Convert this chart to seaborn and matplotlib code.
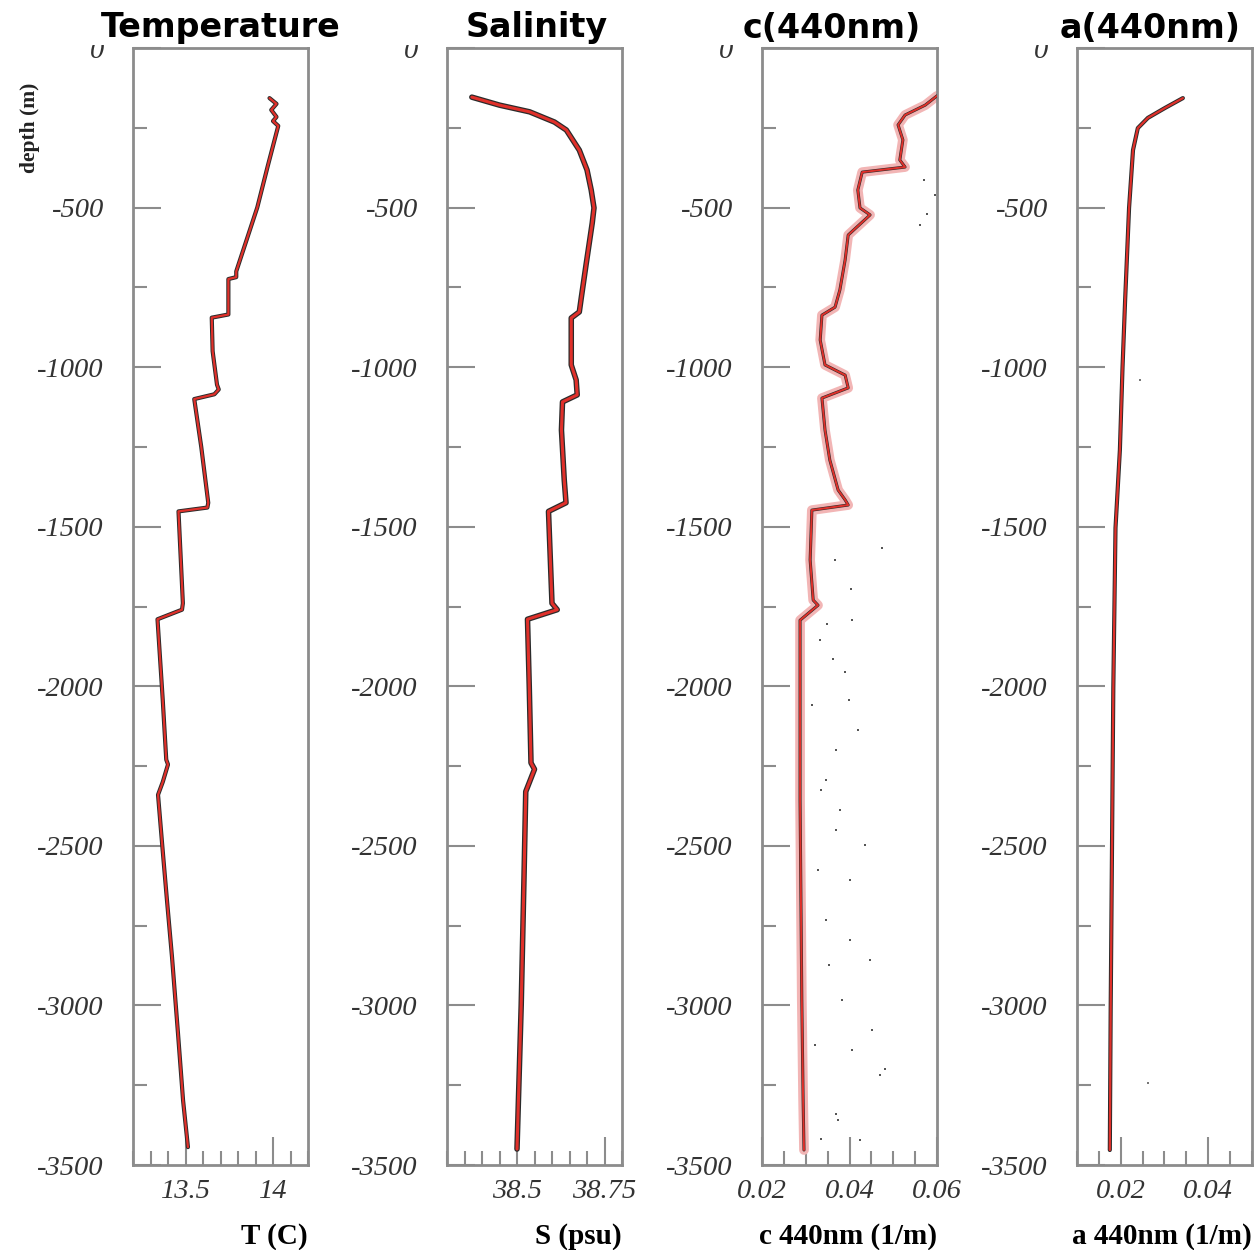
import numpy as np
import pandas as pd
import matplotlib
matplotlib.use("Agg")
import matplotlib.pyplot as plt
import seaborn as sns
from matplotlib.patches import Rectangle
from matplotlib.ticker import MultipleLocator, FixedLocator, FixedFormatter

# ---------------- data ----------------
temp_depth = [-157, -175, -194, -216, -229, -244, -370, -500, -600, -700, -718, -724,
              -835, -845, -950, -1055, -1070, -1085, -1100, -1250, -1425, -1440, -1452,
              -1740, -1760, -1790, -2043, -2230, -2245, -2300, -2340, -2491, -2670,
              -2849, -3087, -3297, -3444]
temp_val = [13.98, 14.02, 13.99, 14.02, 14.00, 14.03, 13.97, 13.91, 13.85, 13.79, 13.79, 13.745,
            13.745, 13.65, 13.655, 13.68, 13.69, 13.665, 13.55, 13.59, 13.63, 13.625, 13.46,
            13.485, 13.48, 13.34, 13.37, 13.39, 13.40, 13.37, 13.343, 13.366, 13.394,
            13.423, 13.457, 13.486, 13.514]

sal_depth = [-154, -179, -200, -232, -257, -320, -382, -445, -501, -548, -674, -780, -827,
             -846, -993, -1040, -1087, -1109, -1197, -1354, -1425, -1452, -1740, -1760,
             -1790, -2000, -2240, -2260, -2330, -2600, -3000, -3450]
sal_val = [38.371, 38.45, 38.536, 38.607, 38.641, 38.678, 38.70, 38.712, 38.72, 38.715, 38.698,
           38.684, 38.678, 38.655, 38.655, 38.669, 38.672, 38.63, 38.627, 38.635, 38.64, 38.59,
           38.60, 38.615, 38.53, 38.535, 38.54, 38.55, 38.525, 38.52, 38.512, 38.50]

c_depth = [-150, -179, -210, -241, -288, -351, -373, -389, -445, -501, -523, -586, -664,
           -758, -812, -837, -915, -993, -1025, -1065, -1097, -1197, -1291, -1385, -1416,
           -1432, -1448, -1604, -1730, -1746, -1793, -2043, -2357, -2670, -2983, -3297, -3453]
c_val = [0.060, 0.0573, 0.0527, 0.0511, 0.0522, 0.0515, 0.0527, 0.0429, 0.0419, 0.0424, 0.0447,
         0.0397, 0.0390, 0.0378, 0.0367, 0.0337, 0.0333, 0.0344, 0.0390, 0.0397, 0.0337, 0.0344,
         0.0355, 0.0374, 0.0390, 0.0397, 0.0314, 0.0310, 0.0317, 0.0328, 0.0287, 0.0287, 0.0287,
         0.0289, 0.0291, 0.0294, 0.0296]

c_out_depth = [-414, -461, -520, -555, -1566, -1696, -1805, -1915, -2043, -2200, -2326, -2451,
               -2608, -2733, -2858, -2984, -3140, -3200, -3340, -3420,
               -1855, -1955, -2059, -2137, -2294, -2388, -2498, -2576, -2795, -2874,
               -3077, -3124, -3359, -3422, -1604, -1793, -3218]
c_out_val = [0.0570, 0.0595, 0.0577, 0.0560, 0.0474, 0.0404, 0.0348, 0.0362, 0.0399, 0.0369,
             0.0334, 0.0370, 0.0400, 0.0346, 0.0447, 0.0383, 0.0405, 0.0482, 0.0370, 0.0335,
             0.0333, 0.0390, 0.0314, 0.0419, 0.0346, 0.0378, 0.0435, 0.0328, 0.0401, 0.0353,
             0.0451, 0.0321, 0.0374, 0.0424, 0.0367, 0.0406, 0.0470]

a_depth = [-157, -188, -219, -251, -320, -501, -790, -1003, -1260, -1504, -2006, -2507,
           -3008, -3453]
a_val = [0.0342, 0.0301, 0.0262, 0.0239, 0.0228, 0.0219, 0.0210, 0.0204, 0.0198, 0.0188,
         0.0183, 0.0180, 0.0177, 0.0175]

a_out_depth = [-1040, -3243]
a_out_val = [0.0245, 0.0262]

titles = ["Temperature", "Salinity", "c(440nm)", "a(440nm)"]
xlabels = ["T (C)", "S (psu)", "c 440nm (1/m)", "a 440nm (1/m)"]
xlims = [(13.2, 14.2), (38.3, 38.8), (0.02, 0.06), (0.01, 0.05)]
xmajor = [[13.5, 14.0], [38.5, 38.75], [0.02, 0.04, 0.06], [0.02, 0.04]]
xmajor_lbl = [["13.5", "14"], ["38.5", "38.75"], ["0.02", "0.04", "0.06"], ["0.02", "0.04"]]
xminor = [0.1, 0.05, 0.005, 0.005]
yticks = [0, -500, -1000, -1500, -2000, -2500, -3000, -3500]
ylabels = ["0", "-500", "-1000", "-1500", "-2000", "-2500", "-3000", "-3500"]

# ---------------- figure ----------------
sns.set_theme(style="white")
plt.rcParams["font.family"] = ["DejaVu Sans"]
W, H = 1256, 1250
fig = plt.figure(figsize=(W / 100, H / 100), dpi=100)
fig.patch.set_facecolor("white")

lefts = [133, 447, 762, 1077]
pw = 175
top_px, bot_px = 48, 1165
frame_col = "#8c8c8c"
serif = ["Liberation Serif", "DejaVu Serif"]

profiles = [
    (temp_val, temp_depth),
    (sal_val, sal_depth),
    (c_val, c_depth),
    (a_val, a_depth),
]

for i in range(4):
    ax = fig.add_axes([lefts[i] / W, 1 - bot_px / H, pw / W, (bot_px - top_px) / H])
    ax.set_facecolor("white")
    xv, dv = profiles[i]
    df = pd.DataFrame({"v": xv, "d": dv})
    if i == 2:
        sns.lineplot(data=df, x="v", y="d", sort=False, estimator=None, ax=ax,
                     color="#f2b5b5", lw=7, zorder=2)
        sns.lineplot(data=df, x="v", y="d", sort=False, estimator=None, ax=ax,
                     color="#2b2b2b", lw=2.2, zorder=3)
        sns.lineplot(data=df, x="v", y="d", sort=False, estimator=None, ax=ax,
                     color="#e0302a", lw=1.4, zorder=4)
        od = pd.DataFrame({"v": c_out_val, "d": c_out_depth})
        sns.scatterplot(data=od, x="v", y="d", ax=ax, color="#555555", s=4,
                        marker="s", linewidth=0, zorder=3)
    elif i == 1:
        sns.lineplot(data=df, x="v", y="d", sort=False, estimator=None, ax=ax,
                     color="#2b2b2b", lw=4.0, zorder=3)
        sns.lineplot(data=df, x="v", y="d", sort=False, estimator=None, ax=ax,
                     color="#e0302a", lw=2.2, zorder=4)
    else:
        sns.lineplot(data=df, x="v", y="d", sort=False, estimator=None, ax=ax,
                     color="#2b2b2b", lw=3.0, zorder=3)
        sns.lineplot(data=df, x="v", y="d", sort=False, estimator=None, ax=ax,
                     color="#e0302a", lw=1.6, zorder=4)
        if i == 3:
            ad = pd.DataFrame({"v": a_out_val, "d": a_out_depth})
            sns.scatterplot(data=ad, x="v", y="d", ax=ax, color="#777777", s=4,
                            marker="s", linewidth=0, zorder=3)

    ax.set_xlim(*xlims[i])
    ax.set_ylim(-3500, 0)
    ax.xaxis.set_major_locator(FixedLocator(xmajor[i]))
    ax.xaxis.set_major_formatter(FixedFormatter(xmajor_lbl[i]))
    ax.xaxis.set_minor_locator(MultipleLocator(xminor[i]))
    ax.yaxis.set_major_locator(FixedLocator(yticks))
    ax.yaxis.set_major_formatter(FixedFormatter(ylabels))
    ax.yaxis.set_minor_locator(MultipleLocator(250))
    ax.tick_params(axis="both", which="both", direction="in", colors=frame_col,
                   top=False, right=False, left=True, bottom=True)
    ax.tick_params(axis="both", which="major", length=20, width=1.5)
    ax.tick_params(axis="both", which="minor", length=10, width=1.5)
    ax.tick_params(axis="y", which="major", pad=21)
    ax.tick_params(axis="x", which="major", pad=10)
    for lab in ax.get_xticklabels() + ax.get_yticklabels():
        lab.set_fontfamily(serif)
        lab.set_fontstyle("italic")
        lab.set_fontsize(20.5)
        lab.set_color("#333333")
    for sp in ax.spines.values():
        sp.set_color(frame_col)
        sp.set_linewidth(2)
        sp.set_visible(True)
    ax.set_ylabel("")
    ax.set_xlabel(xlabels[i], fontfamily=serif, fontweight="bold", fontsize=21,
                  color="black", loc="right", labelpad=14)

# white band covering the very top (as in the cropped original)
fig.patches.append(Rectangle((0, 1 - 45 / H), 1, 45 / H, transform=fig.transFigure,
                             facecolor="white", edgecolor="none", zorder=5))

title_x = [221, 537, 832, 1150]
for t, cx in zip(titles, title_x):
    fig.text(cx / W, 1 - 28 / H, t, ha="center", va="center", fontsize=24,
             fontweight="bold", family=["DejaVu Sans"], color="black", zorder=6)

fig.text(30 / W, 1 - 128 / H, "depth (m)", rotation=90, ha="center", va="center",
         fontsize=15.5, fontweight="bold", family=serif, color="#222222", zorder=6)

fig.savefig("out.png", dpi=100, facecolor="white")
